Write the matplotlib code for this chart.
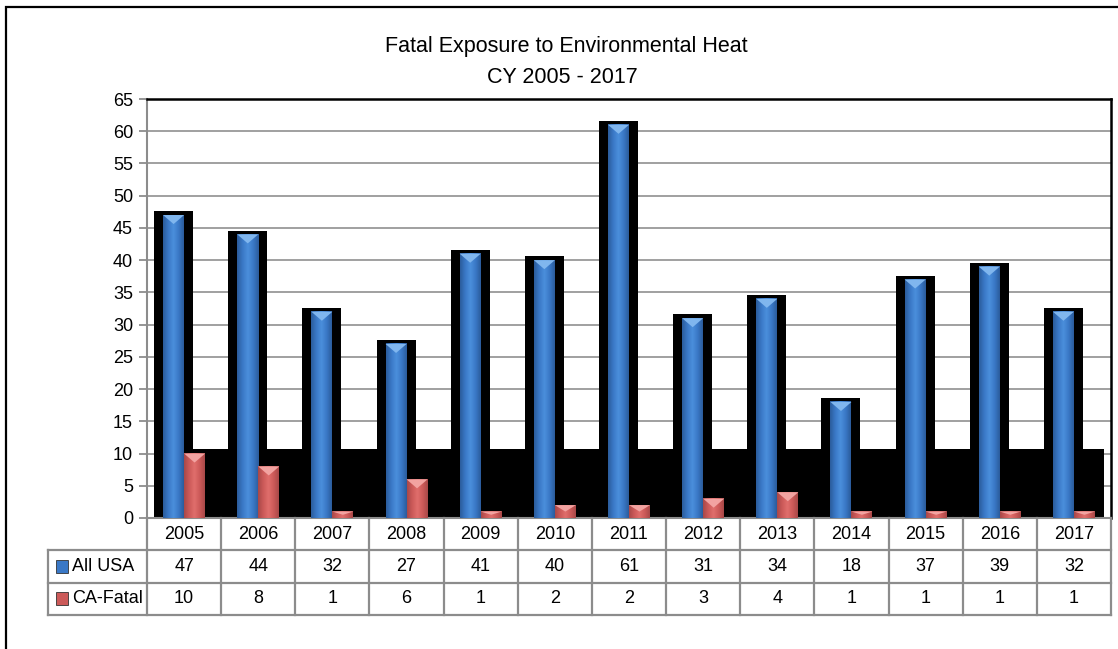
import matplotlib.pyplot as plt
import numpy as np
from matplotlib.colors import LinearSegmentedColormap
from matplotlib.patches import Polygon, Rectangle

years = ['2005', '2006', '2007', '2008', '2009', '2010', '2011',
         '2012', '2013', '2014', '2015', '2016', '2017']
all_usa = [47, 44, 32, 27, 41, 40, 61, 31, 34, 18, 37, 39, 32]
ca_fatal = [10, 8, 1, 6, 1, 2, 2, 3, 4, 1, 1, 1, 1]
series = ['All USA', 'CA-Fatal']

plt.rcParams['font.family'] = ['Liberation Sans', 'DejaVu Sans']

W, H = 1118, 649
fig = plt.figure(figsize=(W / 100, H / 100), dpi=100)

# pixel layout of the plot area
left, right, top, bottom = 147, 1111, 99, 518
ax = fig.add_axes([left / W, (H - bottom) / H, (right - left) / W, (bottom - top) / H])

n = len(years)
x = np.arange(n)
px = (right - left) / n          # pixels per category
bw = 21 / px                     # bar width in data units
pad = 9 / px                     # shadow margin
fs = 13

blue_cmap = LinearSegmentedColormap.from_list('b', ['#2b5c9c', '#3a78c6', '#4b8fdc'])
red_cmap = LinearSegmentedColormap.from_list('r', ['#a84848', '#cc5a59', '#e06e6c'])
grad = 1 - np.abs(np.linspace(-1, 1, 64))[None, :]


def bevel_bar(x0, h, cmap, tri_color):
    ax.imshow(grad, extent=[x0, x0 + bw, 0, h], aspect='auto', cmap=cmap,
              vmin=0, vmax=1, zorder=4, interpolation='bilinear')
    th = min(1.4, h * 0.5)
    ax.add_patch(Polygon([(x0, h), (x0 + bw, h), (x0 + bw / 2, h - th)],
                         closed=True, fc=tri_color, ec='none', zorder=5))


# black shadows
for xi, v in zip(x, all_usa):
    ax.add_patch(Rectangle((xi - bw - pad, 0), bw + 2 * pad, v + 0.6,
                           fc='black', ec='none', zorder=2))
x_lo = x[0] - bw - pad
x_hi = x[-1] + bw + pad
ax.add_patch(Rectangle((x_lo, 0), x_hi - x_lo, max(ca_fatal) + 0.7,
                       fc='black', ec='none', zorder=2))

for xi, v in zip(x, all_usa):
    bevel_bar(xi - bw, v, blue_cmap, '#80b6ee')
for xi, v in zip(x, ca_fatal):
    bevel_bar(xi, v, red_cmap, '#f2a3a1')

ax.set_xlim(-0.5, n - 0.5)
ax.set_ylim(0, 65)
ax.set_yticks(np.arange(0, 66, 5))
ax.set_xticks([])
ax.grid(axis='y', color='#999999', lw=1.3, zorder=1)
ax.set_axisbelow(True)
ax.tick_params(axis='y', length=6, width=1.3, color='#8c8c8c', labelsize=fs, pad=4)
for s in ['left', 'bottom']:
    ax.spines[s].set_color('#8c8c8c')
    ax.spines[s].set_linewidth(1.5)
for s in ['top', 'right']:
    ax.spines[s].set_color('black')
    ax.spines[s].set_linewidth(1.8)

# data table below the axis
lab_w = (left - 48) / px
tab = fig.add_axes([48 / W, (H - 615) / H, (right - 48) / W, (615 - bottom) / H])
tab.set_xlim(-0.5 - lab_w, n - 0.5)
tab.set_ylim(3, 0)
tab.axis('off')
lc = '#8c8c8c'
for r in [1, 2, 3]:
    tab.plot([-0.5 - lab_w, n - 0.5], [r, r], color=lc, lw=1.6, clip_on=False)
for i in range(n + 1):
    tab.plot([i - 0.5, i - 0.5], [0, 3], color=lc, lw=1.6, clip_on=False)
tab.plot([-0.5 - lab_w] * 2, [1, 3], color=lc, lw=1.6, clip_on=False)

for i, yr in enumerate(years):
    tab.text(i, 0.5, yr, ha='center', va='center', fontsize=fs)
    tab.text(i, 1.5, str(all_usa[i]), ha='center', va='center', fontsize=fs)
    tab.text(i, 2.5, str(ca_fatal[i]), ha='center', va='center', fontsize=fs)

sw_colors = ['#3a78c6', '#cc5a59']
for r, (name, c) in enumerate(zip(series, sw_colors)):
    x0 = -0.5 - lab_w + 8 / px
    tab.add_patch(Rectangle((x0, r + 1.3), 12 / px, 0.4, fc=c, ec='#333333', lw=0.6))
    tab.text(-0.5 - lab_w + 24 / px, r + 1.5, name, ha='left', va='center', fontsize=fs)

# title
fig.text(566 / W, (H - 52) / H, 'Fatal Exposure to Environmental Heat',
         ha='center', va='baseline', fontsize=15.5)
fig.text(562 / W, (H - 83) / H, 'CY 2005 - 2017',
         ha='center', va='baseline', fontsize=15.5)

# outer chart border (partly outside the image)
fig.patches.append(Rectangle((6 / W, -0.1), 1.0, (H - 7) / H + 0.1,
                             transform=fig.transFigure, fc='none', ec='black', lw=1.6))

fig.savefig('out.png', dpi=100)
